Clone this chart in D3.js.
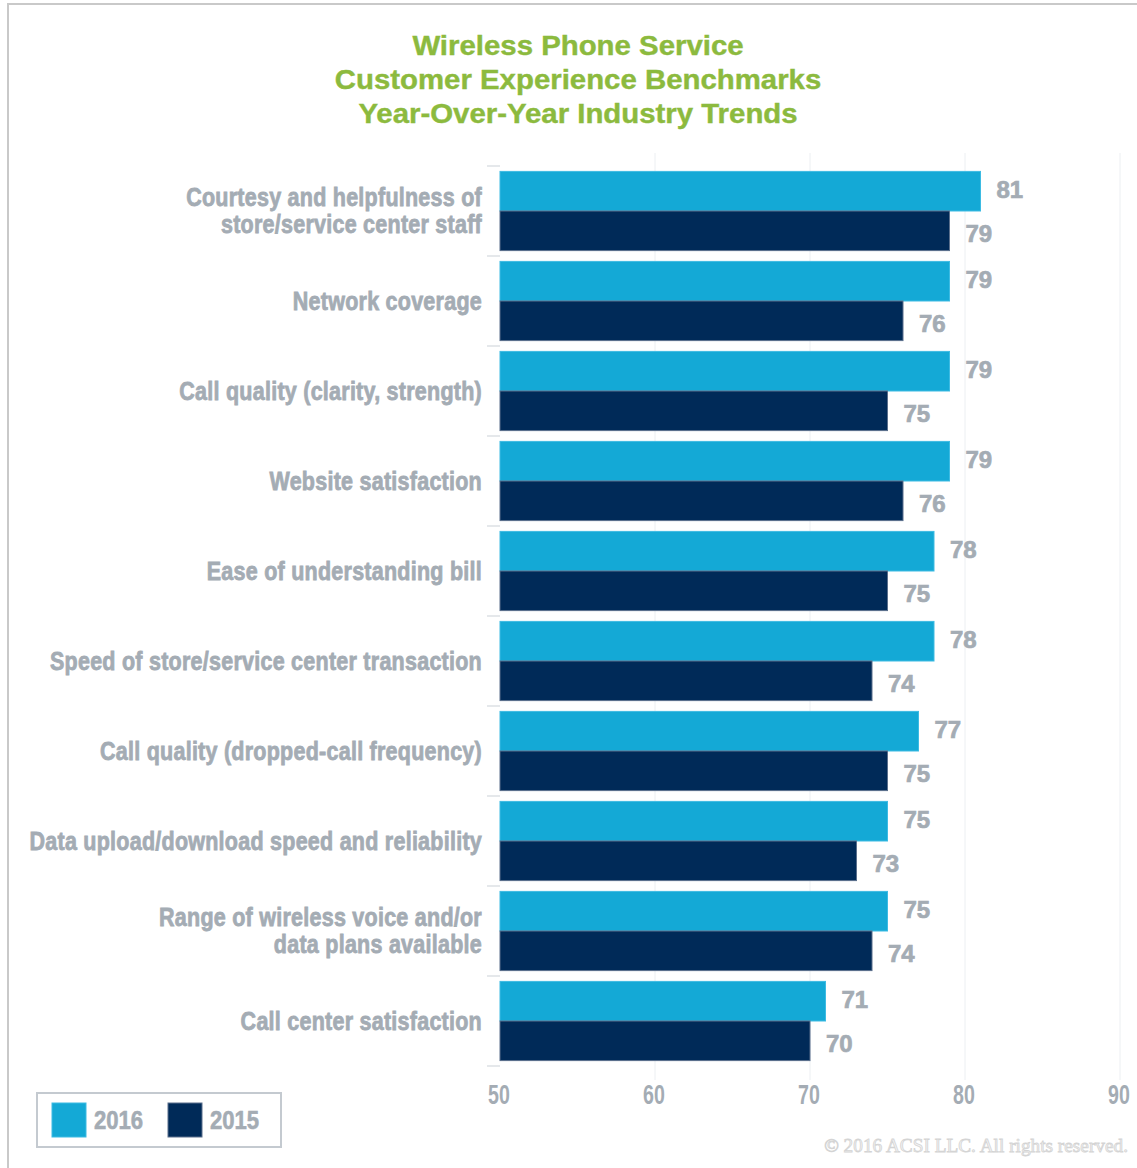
<!DOCTYPE html>
<html>
<head>
<meta charset="utf-8">
<script src="https://cdn.jsdelivr.net/npm/d3@7"></script>
<style>
  html, body { margin: 0; padding: 0; background: #fff; }
  svg { display: block; }
</style>
</head>
<body>
<svg id="chart" width="1137" height="1168"></svg>
<script>
// Wireless phone service benchmark scores, 2016 vs 2015
const titleLines = [
  "Wireless Phone Service",
  "Customer Experience Benchmarks",
  "Year-Over-Year Industry Trends"
];
const categories = [
  ["Courtesy and helpfulness of", "store/service center staff"],
  ["Network coverage"],
  ["Call quality (clarity, strength)"],
  ["Website satisfaction"],
  ["Ease of understanding bill"],
  ["Speed of store/service center transaction"],
  ["Call quality (dropped-call frequency)"],
  ["Data upload/download speed and reliability"],
  ["Range of wireless voice and/or", "data plans available"],
  ["Call center satisfaction"]
];
const series = ["2016", "2015"];
const values2016 = [81, 79, 79, 79, 78, 78, 77, 75, 75, 71];
const values2015 = [79, 76, 75, 76, 75, 74, 75, 73, 74, 70];
const xTicks = [50, 60, 70, 80, 90];
const copyright = "\u00A9 2016 ACSI LLC. All rights reserved.";

const colors = { "2016": "#14a9d6", "2015": "#002a58" };
const strokes = { "2016": "#3dbbe3", "2015": "#5a6f8c" };
const gray = "#a4acb4";

const svg = d3.select("#chart");
const rows = categories.map((c, i) => ({
  key: c.join(" "),
  lines: c,
  vals: { "2016": values2016[i], "2015": values2015[i] }
}));

const x = d3.scaleLinear().domain([50, 90]).range([500, 1120]);
const y = d3.scaleBand().domain(rows.map(r => r.key)).range([166, 1066])
  .paddingInner(0.12).paddingOuter(0.06);
const ySub = d3.scaleBand().domain(series).range([0, y.bandwidth()]);

// outer frame
svg.append("path")
  .attr("d", "M8,1168 V4 H1137")
  .attr("fill", "none").attr("stroke", "#c9c9c9").attr("stroke-width", 2);

// title
svg.append("g").selectAll("text").data(titleLines).join("text")
  .attr("transform", (d, i) => `translate(578,${55 + i * 34}) scale(1.05,1)`)
  .attr("text-anchor", "middle")
  .attr("font-family", "Liberation Sans, Arial, sans-serif")
  .attr("font-weight", "bold").attr("font-size", 28)
  .attr("fill", "#8cba3e")
  .attr("stroke", "#8cba3e").attr("stroke-width", 0.4)
  .text(d => d);

// vertical gridlines
svg.append("g").selectAll("line").data(xTicks.slice(1)).join("line")
  .attr("x1", d => x(d)).attr("x2", d => x(d))
  .attr("y1", 153).attr("y2", 1080)
  .attr("stroke", "#eceff2").attr("stroke-width", 1);

// band divider ticks on the left
const bounds = rows.map(r => y(r.key) - y.step() * y.paddingInner() / 2);
bounds.push(y(rows[rows.length - 1].key) + y.bandwidth() + y.step() * y.paddingInner() / 2);
svg.append("g").selectAll("line").data(bounds).join("line")
  .attr("x1", 487).attr("x2", x(50))
  .attr("y1", d => d).attr("y2", d => d)
  .attr("stroke", "#dde1e5").attr("stroke-width", 1.5);

// bars
const groups = svg.append("g").selectAll("g").data(rows).join("g")
  .attr("transform", d => `translate(0,${y(d.key)})`);

groups.selectAll("rect").data(d => series.map(s => ({ s, v: d.vals[s] }))).join("rect")
  .attr("x", x(50))
  .attr("y", d => ySub(d.s))
  .attr("width", d => x(d.v) - x(50))
  .attr("height", ySub.bandwidth())
  .attr("fill", d => colors[d.s])
  .attr("stroke", d => strokes[d.s]).attr("stroke-width", 1);

// value labels
groups.selectAll("text.val").data(d => series.map(s => ({ s, v: d.vals[s] }))).join("text")
  .attr("class", "val")
  .attr("x", d => x(d.v) + 16)
  .attr("y", d => ySub(d.s) + ySub.bandwidth() / 2 + (d.s === "2016" ? -2 : 3))
  .attr("dy", "0.36em")
  .attr("font-family", "Liberation Sans, Arial, sans-serif")
  .attr("font-weight", "bold").attr("font-size", 24)
  .attr("fill", gray).attr("stroke", gray).attr("stroke-width", 0.7)
  .text(d => d.v);

// category labels, horizontally condensed
const condense = 0.86;
const labelG = svg.append("g")
  .attr("transform", `translate(482,0) scale(${condense},1)`);
labelG.selectAll("text").data(rows).join("text")
  .attr("text-anchor", "end")
  .attr("font-family", "Liberation Sans, Arial, sans-serif")
  .attr("font-weight", "bold").attr("font-size", 25)
  .attr("letter-spacing", 0.3)
  .attr("fill", gray).attr("stroke", gray).attr("stroke-width", 0.8)
  .each(function(d) {
    const t = d3.select(this);
    const c = y(d.key) + y.bandwidth() / 2;
    const lh = 27;
    d.lines.forEach((ln, i) => {
      t.append("tspan")
        .attr("x", 0)
        .attr("y", c + (i - (d.lines.length - 1) / 2) * lh)
        .attr("dy", "0.36em")
        .text(ln);
    });
  });

// x axis tick labels
const axisG = svg.append("g");
xTicks.forEach(t => {
  axisG.append("text")
    .attr("transform", `translate(${x(t) - 1},1104) scale(0.7,1)`)
    .attr("text-anchor", "middle")
    .attr("font-family", "Liberation Sans, Arial, sans-serif")
    .attr("font-weight", "bold").attr("font-size", 28)
    .attr("fill", gray)
    .text(t);
});

// legend
const leg = svg.append("g");
leg.append("rect")
  .attr("x", 37).attr("y", 1093).attr("width", 244).attr("height", 54)
  .attr("fill", "#fff").attr("stroke", "#c4cad0").attr("stroke-width", 2);
const legItems = leg.selectAll("g").data(series).join("g")
  .attr("transform", (d, i) => `translate(${52 + i * 116},1103)`);
legItems.append("rect")
  .attr("width", 34).attr("height", 34)
  .attr("fill", d => colors[d]).attr("stroke", d => strokes[d]).attr("stroke-width", 1);
legItems.append("text")
  .attr("transform", "translate(42,26) scale(0.85,1)")
  .attr("font-family", "Liberation Sans, Arial, sans-serif")
  .attr("font-weight", "bold").attr("font-size", 26)
  .attr("fill", gray).attr("stroke", gray).attr("stroke-width", 0.6)
  .text(d => d);

// copyright
svg.append("text")
  .attr("x", 1128).attr("y", 1152)
  .attr("text-anchor", "end")
  .attr("font-family", "Liberation Serif, Times New Roman, serif")
  .attr("font-size", 19.3)
  .attr("fill", "#f3f3f3").attr("stroke", "#d4d4d4").attr("stroke-width", 0.8)
  .text(copyright);
</script>
</body>
</html>
